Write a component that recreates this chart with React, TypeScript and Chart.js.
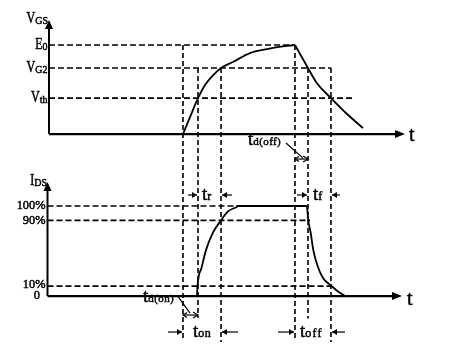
import { useEffect, useRef } from "react";
import { Chart, registerables } from "chart.js";

Chart.register(...registerables);

// ---------------- data (time in arbitrary units, 0 = vertical axes) ----------------
// V_GS waveform (E0 = 10 units)
const vgsRiseTime = [134, 141, 149, 156, 164, 172, 184, 201, 218, 232, 246];
const vgsRiseValue = [0, 1.9, 4.04, 5.5, 6.6, 7.42, 8.1, 9.1, 9.55, 9.83, 10];
const vgsFallTime = [246, 259, 268, 282, 298, 314];
const vgsFallValue = [10, 7.42, 5.7, 4.04, 2.25, 0.67];

// I_DS waveform (as drawn, % of full height)
const idsTime = [148, 148.5, 152.7, 157, 163.7, 172, 179, 187.7, 189, 257.7, 259.3, 261.7, 264.3, 268.7, 274, 282.7, 289, 296];
const idsValue = [0, 11, 32, 51, 70, 84, 94, 99, 100, 100, 84, 70, 51, 33, 20, 11, 5, 0];

// V_GS reference levels
const vgsLevelMain = ["E", "V", "V"];
const vgsLevelSub = ["0", "G2", "th"];
const vgsLevelValue = [10, 7.42, 4.04];
const vgsLevelEnd = [246, 282, 304];

// I_DS reference levels
const idsLevelLabel = ["100%", "90%", "10%"];
const idsLevelValue = [100, 84, 11];
const idsLevelEnd = [189, 261, 283];

// switching instants (vertical guides)
const eventTime = [134, 149, 172, 246, 259, 282];
const eventTopV = [10, 7.42, 7.42, 10, 7.42, 7.42];
const eventBottomI = [-49, -24, -51, -49, -25, -51];

// axes extents
const vgsAxisTop = 12.8;
const vgsAxisEnd = 356;
const idsAxisTop = 126.7;
const idsAxisEnd = 353;
const idsAxisStart = -1.5;

// scale ranges
const xRange = [-49, 409];
const vRange = [-24.6, 15.06];
const iRange = [-63.3, 328.9];

const FONT = '"Liberation Serif", "DejaVu Serif", serif';

type Pt = { x: number; y: number };
const zip = (t: number[], v: number[]): Pt[] => t.map((x, i) => ({ x, y: v[i] }));

function drawLabel(
  ctx: CanvasRenderingContext2D,
  x: number,
  y: number,
  main: string,
  sub: string,
  align: "left" | "right",
  mainSize: number,
  subSize: number,
  squeeze: number,
  subDy: number,
  subSpacing: number
) {
  ctx.save();
  ctx.fillStyle = "#000";
  ctx.strokeStyle = "#000";
  ctx.lineWidth = 0.5;
  ctx.textBaseline = "middle";
  ctx.textAlign = "left";
  ctx.font = `${mainSize}px ${FONT}`;
  (ctx as any).letterSpacing = "0px";
  const mw = ctx.measureText(main).width * squeeze;
  ctx.font = `${subSize}px ${FONT}`;
  (ctx as any).letterSpacing = `${subSpacing}px`;
  const sw = sub ? ctx.measureText(sub).width : 0;
  const x0 = align === "right" ? x - mw - sw : x;
  ctx.font = `${mainSize}px ${FONT}`;
  (ctx as any).letterSpacing = "0px";
  ctx.save();
  ctx.translate(x0, y);
  ctx.scale(squeeze, 1);
  ctx.fillText(main, 0, 0);
  ctx.strokeText(main, 0, 0);
  ctx.restore();
  if (sub) {
    ctx.font = `${subSize}px ${FONT}`;
    (ctx as any).letterSpacing = `${subSpacing}px`;
    ctx.lineWidth = 0.45;
    ctx.fillText(sub, x0 + mw, y + subDy);
    ctx.strokeText(sub, x0 + mw, y + subDy);
  }
  ctx.restore();
}

function arrowHead(ctx: CanvasRenderingContext2D, x1: number, y1: number, x2: number, y2: number, len: number, half: number, filled: boolean) {
  const a = Math.atan2(y2 - y1, x2 - x1);
  const bx = x2 - len * Math.cos(a);
  const by = y2 - len * Math.sin(a);
  const px = -Math.sin(a) * half;
  const py = Math.cos(a) * half;
  ctx.beginPath();
  ctx.moveTo(bx + px, by + py);
  ctx.lineTo(x2, y2);
  ctx.lineTo(bx - px, by - py);
  if (filled) {
    ctx.closePath();
    ctx.fill();
  } else {
    ctx.stroke();
  }
}

function arrow(ctx: CanvasRenderingContext2D, x1: number, y1: number, x2: number, y2: number, both = false) {
  ctx.beginPath();
  ctx.moveTo(x1, y1);
  ctx.lineTo(x2, y2);
  ctx.stroke();
  arrowHead(ctx, x1, y1, x2, y2, 5, 3, !both);
  if (both) arrowHead(ctx, x2, y2, x1, y1, 4, 2.5, false);
}

const overlayPlugin = {
  id: "overlay",
  afterDatasetsDraw(chart: any) {
    const ctx: CanvasRenderingContext2D = chart.ctx;
    const sx = chart.scales.x;
    const sv = chart.scales.yV;
    const si = chart.scales.yI;
    const X = (t: number) => sx.getPixelForValue(t);
    const V = (v: number) => sv.getPixelForValue(v);
    const I = (v: number) => si.getPixelForValue(v);

    ctx.save();
    ctx.strokeStyle = "#000";
    ctx.fillStyle = "#000";

    // vertical guides
    ctx.lineWidth = 1.6;
    ctx.setLineDash([5, 3]);
    eventTime.forEach((t, i) => {
      ctx.beginPath();
      ctx.moveTo(X(t), V(eventTopV[i]));
      ctx.lineTo(X(t), I(eventBottomI[i]));
      ctx.stroke();
    });
    ctx.setLineDash([]);

    // axis arrowheads
    ctx.lineWidth = 1;
    arrowHead(ctx, X(0), V(0), X(0), V(vgsAxisTop), 9, 4, true);
    arrowHead(ctx, X(0), V(0), X(vgsAxisEnd), V(0), 10, 4, true);
    arrowHead(ctx, X(idsAxisStart), I(0), X(idsAxisStart), I(idsAxisTop), 9, 4, true);
    arrowHead(ctx, X(0), I(0), X(idsAxisEnd), I(0), 10, 4, true);

    // interval arrows
    ctx.lineWidth = 1.2;
    // t_r
    arrow(ctx, X(139), I(112.2), X(148), I(112.2));
    arrow(ctx, X(183), I(112.2), X(173), I(112.2));
    // t_f
    arrow(ctx, X(248), I(112.2), X(258), I(112.2));
    arrow(ctx, X(291), I(112.2), X(283), I(112.2));
    // t_on
    arrow(ctx, X(119), I(-40), X(133), I(-40));
    arrow(ctx, X(189), I(-40), X(173), I(-40));
    // t_off
    arrow(ctx, X(229), I(-40), X(245), I(-40));
    arrow(ctx, X(296), I(-40), X(283), I(-40));
    // t_d(on)
    arrow(ctx, X(134), I(-21.1), X(149), I(-21.1), true);
    ctx.beginPath();
    ctx.moveTo(X(128), I(1.1));
    ctx.lineTo(X(141), I(-18.9));
    ctx.stroke();
    // t_d(off)
    arrow(ctx, X(246), V(-2.81), X(259), V(-2.81), true);
    ctx.beginPath();
    ctx.moveTo(X(237), V(-1.0));
    ctx.lineTo(X(254), V(-2.7));
    ctx.stroke();

    // axis labels
    drawLabel(ctx, X(-1), V(12.92), "V", "GS", "right", 16, 10, 0.75, 2, 0);
    vgsLevelMain.forEach((m, i) => {
      drawLabel(ctx, X(-1.5), V(vgsLevelValue[i]), m, vgsLevelSub[i], "right", 16, 10, 0.75, 2, 0);
    });
    drawLabel(ctx, X(-2), I(127.8), "I", "DS", "right", 16, 10, 0.75, 2, 0);
    idsLevelLabel.forEach((l, i) => {
      const dy = i === 2 ? 2 : 0;
      drawLabel(ctx, X(-3.5), I(idsLevelValue[i]) - dy, l, "", "right", 13, 10, 0.95, 0, 0);
    });
    drawLabel(ctx, X(-9), I(0), "0", "", "right", 13, 10, 0.95, 0, 0);

    drawLabel(ctx, X(360), V(-0.22), "t", "", "left", 20, 10, 1, 0, 0);
    drawLabel(ctx, X(358), I(-4.4), "t", "", "left", 20, 10, 1, 0, 0);

    // interval labels
    drawLabel(ctx, X(153), I(112.2), "t", "r", "left", 19, 12, 1, 1.5, 0.5);
    drawLabel(ctx, X(264), I(112.2), "t", "f", "left", 19, 12, 1, 1.5, 0.5);
    drawLabel(ctx, X(144), I(-40), "t", "on", "left", 19, 12, 1, 1.5, 0.5);
    drawLabel(ctx, X(251), I(-40), "t", "off", "left", 19, 12, 1, 1.5, 1.2);
    drawLabel(ctx, X(94), I(-1.1), "t", "d(on)", "left", 19, 11, 1, 2, 0.4);
    drawLabel(ctx, X(199), V(-0.67), "t", "d(off)", "left", 19, 11, 1, 2, 0.4);

    ctx.restore();
  },
};

export default function App() {
  const ref = useRef<HTMLCanvasElement>(null);

  useEffect(() => {
    const canvas = ref.current;
    if (!canvas) return;

    const dashed = (data: Pt[], axis: string) => ({
      data,
      yAxisID: axis,
      borderColor: "#000",
      borderWidth: 1.6,
      borderDash: [6, 3],
      pointRadius: 0,
      fill: false,
      tension: 0,
    });
    const solid = (data: Pt[], axis: string, width: number, smooth: boolean) => ({
      data,
      yAxisID: axis,
      borderColor: "#000",
      borderWidth: width,
      pointRadius: 0,
      fill: false,
      cubicInterpolationMode: smooth ? "monotone" : "default",
      tension: smooth ? 0.4 : 0,
    });

    const datasets: any[] = [];
    vgsLevelValue.forEach((v, i) => {
      datasets.push(dashed([{ x: 0, y: v }, { x: vgsLevelEnd[i], y: v }], "yV"));
    });
    idsLevelValue.forEach((v, i) => {
      datasets.push(dashed([{ x: idsAxisStart, y: v }, { x: idsLevelEnd[i], y: v }], "yI"));
    });
    // axes
    datasets.push(solid([{ x: 0, y: 0 }, { x: vgsAxisEnd - 6, y: 0 }], "yV", 2.2, false));
    datasets.push(solid([{ x: 0, y: 0 }, { x: 0, y: vgsAxisTop - 0.7 }], "yV", 2, false));
    datasets.push(solid([{ x: idsAxisStart, y: 0 }, { x: idsAxisEnd - 6, y: 0 }], "yI", 2.2, false));
    datasets.push(solid([{ x: idsAxisStart, y: 0 }, { x: idsAxisStart, y: idsAxisTop - 7 }], "yI", 2, false));
    // waveforms
    datasets.push(solid(zip(vgsRiseTime, vgsRiseValue), "yV", 1.8, true));
    datasets.push(solid(zip(vgsFallTime, vgsFallValue), "yV", 1.8, true));
    datasets.push(solid(zip(idsTime, idsValue), "yI", 1.8, true));

    const chart = new Chart(canvas, {
      type: "line",
      data: { datasets },
      options: {
        animation: false,
        responsive: false,
        maintainAspectRatio: false,
        events: [],
        layout: { padding: 0 },
        plugins: { legend: { display: false }, tooltip: { enabled: false } },
        scales: {
          x: { type: "linear", min: xRange[0], max: xRange[1], display: false },
          yV: { type: "linear", min: vRange[0], max: vRange[1], display: false },
          yI: { type: "linear", min: iRange[0], max: iRange[1], display: false },
        },
      },
      plugins: [overlayPlugin],
    } as any);

    return () => chart.destroy();
  }, []);

  return (
    <div style={{ position: "fixed", left: 0, top: 0, width: 458, height: 353, background: "#fff" }}>
      <canvas ref={ref} width={458} height={353} style={{ display: "block", width: 458, height: 353 }} />
    </div>
  );
}
